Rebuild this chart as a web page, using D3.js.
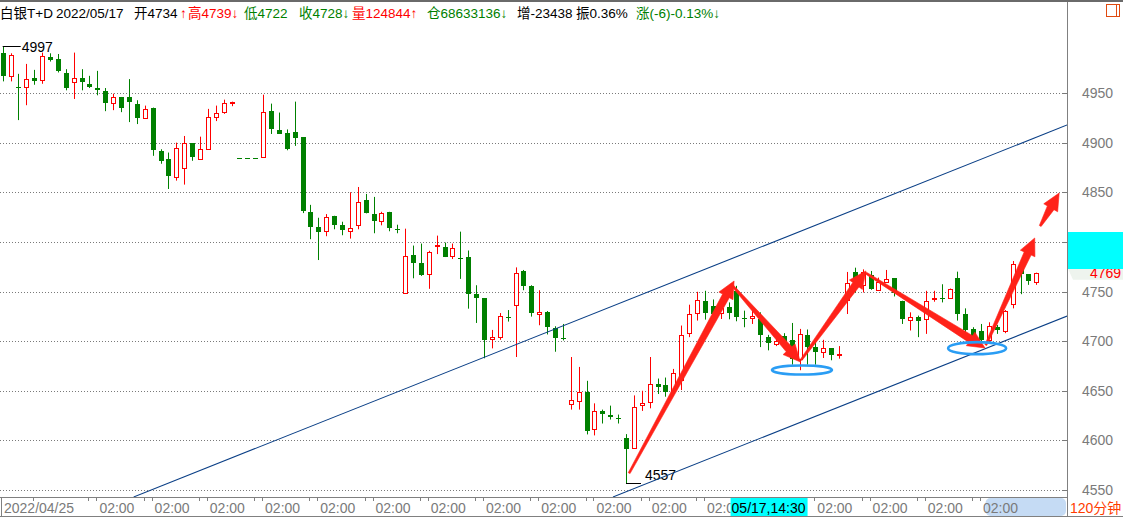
<!DOCTYPE html>
<html><head><meta charset="utf-8">
<script src="https://cdnjs.cloudflare.com/ajax/libs/d3/7.8.5/d3.min.js"></script>
<style>html,body{margin:0;padding:0;background:#fff;overflow:hidden}svg{display:block}</style>
</head><body><svg id="c" width="1123" height="517"></svg>
<script>
// ---- data: 120-minute candles of 白银T+D ----
const opens = [4990,4966.7,4956,4956,4965.3,4962.7,4986,4984,4970,4961,4965,4959.3,4955,4952.3,4940,4946,4946,4939.3,4924.7,4935.3,
4891.3,4883.3,4865.7,4874,4899.3,4883.3,4894,4926,4931,4940.7,4885,4885,4885,4886,4932.3,4913,4909.3,4910.3,4905.3,4830.3,
4815.3,4811,4826.3,4817.3,4811,4816.7,4842.3,4828.3,4821.7,4830.3,4813,4749,4786.3,4778.3,4768,4796.5,4795.3,4786,4784,4784.3,
4747.3,4743.3,4701.7,4704,4724,4736.7,4770.7,4755.3,4727.3,4729.3,4713.3,4703.3,4636.5,4640.3,4649,4611,4630,4626,4622.5,4602.3,
4593,4636,4639,4657.3,4655.3,4650,4661,4708.3,4728,4740.3,4735,4729,4734,4750.7,4723.7,4723,4722.3,4704,4696.7,4705,
4700.7,4682.3,4706.3,4694,4689,4693,4686,4741.7,4770,4756.3,4766.3,4752.3,4760,4763.3,4740.7,4722,4724.7,4722.3,4741.7,4743,
4744,4764,4727.3,4712,4709.7,4700.7,4714,4710.7,4737.3,4775.7,4767.3,4760];
const highs = [4997,4990,4969.3,4979.3,4973.3,4990.7,4990,4989.3,4974,4990.7,4974,4967.3,4972.3,4955,4949.3,4946,4964,4942.7,4937.3,4935.3,
4893.3,4890,4900,4906.7,4899.3,4906,4934,4937.3,4943.3,4941.3,4885,4885,4885,4948.3,4939.3,4930.3,4913.3,4941.3,4905.3,4837.3,
4824.3,4828,4826.3,4820.3,4850,4855.3,4848.3,4845.3,4830.3,4830.3,4817.3,4813.3,4796.3,4798.3,4791,4806.3,4799.3,4798.3,4810.3,4791.3,
4756.3,4743.3,4711.3,4728.3,4731.3,4774.3,4771.7,4756.3,4751.3,4730.3,4715,4717.3,4684,4674,4660,4637.3,4631,4635,4626,4606.3,
4645.3,4650,4684,4662.3,4663.3,4672,4715.7,4736.7,4749.7,4750.7,4742,4739.7,4739,4755.7,4730.7,4733.3,4729,4706.3,4704,4708,
4718.3,4712.3,4711.7,4701.3,4701.3,4693,4695,4769.7,4774,4772.3,4770.7,4764,4771.7,4763.3,4740.7,4729,4725.7,4750.7,4750.7,4757.3,
4753,4770,4733,4714,4717.3,4719,4716.3,4731.3,4780.7,4779,4767.3,4769];
const lows = [4961.7,4961.7,4922.7,4937.7,4958.3,4959.3,4981.7,4970.7,4952.7,4944,4952.7,4955,4947.7,4931.7,4932.7,4930.7,4920.7,4918.7,4924.7,4886.7,
4878.7,4853.3,4861.7,4857.7,4881.7,4882.7,4892.7,4921.7,4929,4936.7,4885,4885,4885,4886,4908.7,4908.7,4892.3,4896.7,4829,4802.7,
4781.7,4805.7,4812.7,4806.7,4803.3,4812.7,4828.7,4808.7,4816.7,4810.7,4808.7,4749,4763.3,4765.7,4752.7,4787.7,4784.7,4782.7,4762.7,4732.7,
4718.3,4682.7,4692.7,4701.3,4719.7,4684,4751.3,4724.7,4716,4706.7,4689.3,4700.7,4631,4631,4606,4605,4617,4621,4617,4557,
4591.3,4629.7,4632.3,4646.7,4644,4646,4650.7,4704,4720.7,4721.7,4718,4722.3,4722,4720,4714,4717.3,4694,4690.7,4695,4693,
4676.3,4670.7,4676.3,4676.3,4683,4680.7,4682.3,4727.3,4749,4749,4751.7,4750.7,4759,4745,4717.3,4710.7,4704,4707.3,4739.7,4739,
4743,4720.7,4703,4700,4697,4698.3,4707.3,4708,4733,4747.3,4756.7,4756.7];
const closes = [4966.7,4988,4956,4964,4962.7,4987,4982.7,4971.7,4954.7,4965,4961,4956,4953,4940.7,4946,4934.7,4940.7,4924.7,4934,4892.7,
4881.3,4865.7,4895,4899.3,4884.7,4893.3,4926,4930,4940,4941.3,4885,4885,4885,4931,4913.7,4909.3,4893.3,4904.7,4830.7,4814.7,
4810.7,4825.3,4817.7,4812.7,4814,4840,4828.7,4821.7,4829.3,4813.7,4813,4786,4778.7,4766.7,4790,4797,4785.7,4794,4784,4747.5,
4743.3,4700.7,4703.7,4725,4724,4769,4755.7,4727.7,4729,4714,4703.7,4703.3,4640.5,4649,4610,4629.5,4626.5,4623.5,4622.5,4591,
4634,4638,4657.3,4654.7,4648.3,4668,4706.3,4727.3,4741,4728,4727,4733.7,4728,4725,4723.7,4725.3,4705.7,4698,4700,4697,
4681.7,4707,4694.7,4689,4693,4685.7,4687.3,4759,4758,4769.7,4752.3,4760,4763,4748.3,4722.3,4724.7,4720.7,4740.7,4743,4743,
4753,4728,4710.7,4704,4700.7,4715,4710.7,4730.7,4777.3,4767.3,4760.7,4769];

const priceTicks = [4550,4600,4650,4700,4750,4800,4850,4900,4950];
const timeTickIdx = [12,19,26,33,40,47,54,61,68,75,82,89,96,103,110,117,124];
const timeTickLabel = "02:00";
const minorTickIdx = [4,11,18,25,32,39,46,53,60,67,74,81,88,95,102,109,116,123];
const firstDateLabel = "2022/04/25";
const cursorIdx = 92;
const cursorLabel = "05/17,14:30";
const lastPriceLabel = "4769";

// annotations in (bar index, price)
const upperChannel = [[16.6,4543],[134.9,4917.8]];
const lowerChannel = [[77.35,4543],[134.9,4725.3]];
const arrowTails = [[79.4,4567],[92.3,4757.6],[101.2,4681],[109.4,4768.6],[124.6,4696],[131.5,4816]];
const arrowHeads = [[92.7,4760.6],[101.1,4679],[109.4,4770.7],[124.5,4693.1],[130.8,4803.9],[133.9,4849.2]];
const ellipseCenters = [[101.3,4670.9],[123.5,4692.9]];

// header
const headerSegs = [
  {x:0,   t:"白银T+D", c:"#000"},
  {x:56,  t:"2022/05/17", c:"#000"},
  {x:134, t:"开4734", c:"#000"},
  {x:180, t:"↑", c:"#ff0000"},
  {x:188, t:"高4739↓", c:"#ff0000"},
  {x:244, t:"低4722", c:"#008000"},
  {x:299, t:"收4728↓", c:"#008000"},
  {x:352, t:"量124844↑", c:"#ff0000"},
  {x:427, t:"仓68633136↓", c:"#008000"},
  {x:517, t:"增-23438", c:"#000"},
  {x:576, t:"振0.36%", c:"#000"},
  {x:636, t:"涨(-6)-0.13%↓", c:"#008000"}
];

// ---- drawing ----
const W = 1123, H = 517;
const plotRight = 1067, axisTop = 497;
const svg = d3.select("#c");
const FONT = "'Liberation Sans', Arial, 'Noto Sans CJK SC', sans-serif";

const x = d3.scaleLinear().domain([0, 131]).range([2.7, 2.7 + 7.89*131]);
const y = d3.scaleLinear().domain([4550, 4950]).range([490, 93]);

svg.append("rect").attr("width", W).attr("height", H).attr("fill", "#fff");

const defs = svg.append("defs");
defs.append("clipPath").attr("id","plot").append("rect")
  .attr("x",0).attr("y",28).attr("width",plotRight).attr("height",axisTop-28);
defs.append("clipPath").attr("id","xlab").append("rect")
  .attr("x",0).attr("y",axisTop).attr("width", x(cursorIdx) + 2).attr("height",H-axisTop);

// gridlines
const grid = svg.append("g");
grid.selectAll("line").data(priceTicks).join("line")
  .attr("x1", 0).attr("x2", plotRight - 4)
  .attr("y1", d => Math.round(y(d)) + 0.5).attr("y2", d => Math.round(y(d)) + 0.5)
  .attr("stroke", "#7a7a7a").attr("stroke-width", 1).attr("stroke-dasharray", "1,2");
grid.selectAll("line.t").data(priceTicks).join("line").attr("class","t")
  .attr("x1", plotRight - 4).attr("x2", plotRight)
  .attr("y1", d => Math.round(y(d)) + 0.5).attr("y2", d => Math.round(y(d)) + 0.5)
  .attr("stroke", "#7a7a7a");

// candles
const bars = d3.range(opens.length).map(i => ({i, o:opens[i], h:highs[i], l:lows[i], c:closes[i]}));
const cg = svg.append("g").attr("clip-path","url(#plot)");
const up = d => d.c > d.o;
const col = d => up(d) ? "#ff0000" : "#008000";
const cx = d => Math.round(x(d.i)) + 0.5;

cg.selectAll("line.w").data(bars).join("line").attr("class","w")
  .attr("x1", cx).attr("x2", cx)
  .attr("y1", d => y(d.h)).attr("y2", d => y(d.l))
  .attr("stroke", col).attr("stroke-width", 1);

cg.selectAll("rect.b").data(bars.filter(d => up(d))).join("rect").attr("class","b")
  .attr("x", d => cx(d) - 2).attr("width", 4)
  .attr("y", d => Math.round(y(d.c)) + 0.5)
  .attr("height", d => Math.max(1, Math.round(y(d.o) - y(d.c))))
  .attr("fill", "#fff").attr("stroke", "#ff0000").attr("stroke-width", 1);

cg.selectAll("rect.g").data(bars.filter(d => !up(d))).join("rect").attr("class","g")
  .attr("x", d => cx(d) - 2.5).attr("width", 5)
  .attr("y", d => Math.round(y(d.o)))
  .attr("height", d => Math.max(1, Math.round(y(d.c) - y(d.o))))
  .attr("fill", "#008000");

// max / min labels
const hiBar = bars.reduce((a,b) => b.h > a.h ? b : a);
const loBar = bars.reduce((a,b) => b.l < a.l ? b : a);
svg.append("line").attr("x1", x(hiBar.i)).attr("x2", x(hiBar.i) + 18)
  .attr("y1", Math.round(y(hiBar.h)) + 0.5).attr("y2", Math.round(y(hiBar.h)) + 0.5).attr("stroke", "#000");
svg.append("text").attr("x", x(hiBar.i) + 19).attr("y", y(hiBar.h) + 6)
  .attr("font-family", FONT).attr("font-size", 14).attr("fill", "#000").text(hiBar.h.toFixed(0));
svg.append("line").attr("x1", x(loBar.i)).attr("x2", x(loBar.i) + 15)
  .attr("y1", Math.round(y(loBar.l)) + 0.5).attr("y2", Math.round(y(loBar.l)) + 0.5).attr("stroke", "#000");
svg.append("text").attr("x", x(loBar.i) + 19).attr("y", y(loBar.l) - 3)
  .attr("font-family", FONT).attr("font-size", 14).attr("fill", "#000").text(loBar.l.toFixed(0));

// channel lines
const lineGen = d3.line().x(d => x(d[0])).y(d => y(d[1]));
const tg = svg.append("g").attr("clip-path","url(#plot)");
[upperChannel, lowerChannel].forEach(pts => {
  tg.append("path").attr("d", lineGen(pts)).attr("fill","none")
    .attr("stroke", "#0a3f86").attr("stroke-width", 1.1);
});

// red arrows
const ag = svg.append("g");
arrowTails.forEach((t, k) => {
  const hd = arrowHeads[k];
  const x0 = x(t[0]), y0 = y(t[1]), x1 = x(hd[0]), y1 = y(hd[1]);
  const dx = x1 - x0, dy = y1 - y0, L = Math.hypot(dx, dy);
  const ux = dx / L, uy = dy / L, nx = -uy, ny = ux;
  const hl = 17, hw = 8, sw = 3.8, tw = 1;
  const bx = x1 - ux*hl, by = y1 - uy*hl;
  const pts = [
    [x0 + nx*tw, y0 + ny*tw],
    [bx + nx*sw, by + ny*sw],
    [bx + nx*hw, by + ny*hw],
    [x1, y1],
    [bx - nx*hw, by - ny*hw],
    [bx - nx*sw, by - ny*sw],
    [x0 - nx*tw, y0 - ny*tw]
  ];
  ag.append("path").attr("d", "M" + pts.map(p => p.join(",")).join("L") + "Z")
    .attr("fill", "#ff2219").attr("stroke", "#ff2219").attr("stroke-width", 0.6);
});

// blue ellipses
const eRx = [30, 29], eRy = [4.5, 6];
ellipseCenters.forEach((e, k) => {
  svg.append("ellipse").attr("cx", x(e[0])).attr("cy", y(e[1]))
    .attr("rx", eRx[k]).attr("ry", eRy[k])
    .attr("fill", "none").attr("stroke", "#2a9df4").attr("stroke-width", 2.6);
});

// right axis
svg.append("rect").attr("x", plotRight).attr("y", 0).attr("width", W - plotRight).attr("height", H).attr("fill", "#fff");
svg.append("g").selectAll("text").data(priceTicks).join("text")
  .attr("x", 1082).attr("y", d => y(d) + 5)
  .attr("font-family", FONT).attr("font-size", 14).attr("fill", "#7a7a7a")
  .text(d => d);
// last price label
const lastY = y(closes[closes.length - 1]);
svg.append("path")
  .attr("d", `M${plotRight+1},${lastY-4} L${plotRight+6},${lastY-4} L${W},${lastY-4} L${W},${lastY+7} L${plotRight+6},${lastY+7} Z`)
  .attr("fill", "#eef4ee");
svg.append("text").attr("x", 1090).attr("y", lastY + 5)
  .attr("font-family", FONT).attr("font-size", 14).attr("fill", "#ff0000").text(lastPriceLabel);
svg.append("rect").attr("x", plotRight + 0.5).attr("y", 232).attr("width", W - plotRight).attr("height", 37)
  .attr("fill", "#00ffff");
svg.append("line").attr("x1", plotRight + 0.5).attr("x2", plotRight + 0.5).attr("y1", 0).attr("y2", H)
  .attr("stroke", "#808080");

// bottom axis
svg.append("rect").attr("x", 0).attr("y", axisTop).attr("width", plotRight).attr("height", H - axisTop).attr("fill", "#fff");
svg.append("line").attr("x1", 0).attr("x2", plotRight).attr("y1", axisTop + 0.5).attr("y2", axisTop + 0.5).attr("stroke", "#808080");
svg.append("line").attr("x1", 0).attr("x2", W).attr("y1", 516.5).attr("y2", 516.5).attr("stroke", "#808080");
svg.append("line").attr("x1", 1.5).attr("x2", 1.5).attr("y1", axisTop).attr("y2", H).attr("stroke", "#808080");
svg.append("rect").attr("x", 985.5).attr("y", axisTop + 1).attr("width", 80.5).attr("height", 18).attr("rx", 5)
  .attr("fill", "#c5dbf4");
const xg = svg.append("g");
xg.selectAll("line.mj").data(timeTickIdx.concat(minorTickIdx)).join("line").attr("class","mj")
  .attr("x1", d => Math.round(x(d)) - 0.5).attr("x2", d => Math.round(x(d)) - 0.5)
  .attr("y1", axisTop).attr("y2", axisTop + 4).attr("stroke", "#808080");
// labels hidden under the cursor label are not drawn; the one partly under it is clipped
const cursorL = x(cursorIdx) + 2, cursorR = cursorL + 77;
const visibleTicks = timeTickIdx.filter(d => x(d) + 2 < cursorL || x(d) + 2 > cursorR);
xg.selectAll("text").data(visibleTicks).join("text")
  .attr("x", d => x(d) + 2).attr("y", 513)
  .attr("clip-path", d => (x(d) + 42 > cursorL && x(d) < cursorL) ? "url(#xlab)" : null)
  .attr("font-family", FONT).attr("font-size", 14).attr("fill", "#7a7a7a").text(timeTickLabel);
svg.append("text").attr("x", 4).attr("y", 513)
  .attr("font-family", FONT).attr("font-size", 14).attr("fill", "#7a7a7a").text(firstDateLabel);
// cursor label
svg.append("rect").attr("x", cursorL).attr("y", axisTop + 1).attr("width", 77).attr("height", 18)
  .attr("fill", "#00ffff");
svg.append("text").attr("x", cursorL + 1).attr("y", 513)
  .attr("font-family", FONT).attr("font-size", 14).attr("fill", "#000").text(cursorLabel);
svg.append("text").attr("x", 1070).attr("y", 513)
  .attr("font-family", FONT).attr("font-size", 14).attr("fill", "#ff3c00").text("120分钟");

// header
svg.append("rect").attr("x", 0).attr("y", 0).attr("width", W).attr("height", 2).attr("fill", "#6a6a6a");
svg.append("g").selectAll("text").data(headerSegs).join("text")
  .attr("x", d => d.x).attr("y", 18)
  .attr("font-family", FONT).attr("font-size", 13.5).attr("fill", d => d.c).text(d => d.t);
// window icon
svg.append("rect").attr("x", 1106.5).attr("y", 4.5).attr("width", 13).attr("height", 12)
  .attr("fill", "none").attr("stroke", "#e04a10");
svg.append("line").attr("x1", 1116.5).attr("x2", 1116.5).attr("y1", 4.5).attr("y2", 16.5).attr("stroke", "#e04a10");
</script></body></html>
